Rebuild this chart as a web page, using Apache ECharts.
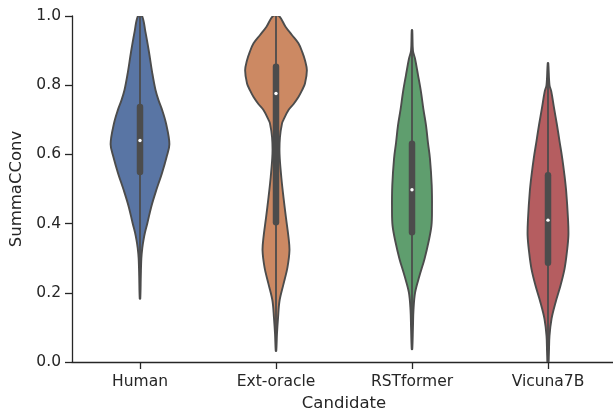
<!DOCTYPE html>
<html>
<head>
<meta charset="utf-8">
<script src="https://cdn.jsdelivr.net/npm/echarts@6/dist/echarts.min.js"></script>
<style>html,body{margin:0;padding:0;background:#fff;}#c{width:613px;height:410px;}</style>
</head>
<body>
<div id="c"></div>
<script>
// Categories
const categories = ['Human', 'Ext-oracle', 'RSTformer', 'Vicuna7B'];
// Violin outlines: [value, half-width as fraction of category spacing]
const humanProfile = [[1.0,0.015],[0.954,0.040],[0.896,0.066],[0.838,0.089],[0.786,0.114],[0.757,0.136],[0.728,0.163],[0.69,0.191],[0.63,0.216],[0.593,0.196],[0.545,0.161],[0.497,0.120],[0.449,0.083],[0.401,0.054],[0.375,0.037],[0.353,0.026],[0.33,0.017],[0.30,0.010],[0.25,0.006],[0.183,0.002]];
const extOracleProfile = [[1.0,0.022],[0.969,0.070],[0.945,0.117],[0.921,0.165],[0.895,0.194],[0.872,0.213],[0.843,0.227],[0.805,0.213],[0.785,0.191],[0.766,0.165],[0.745,0.128],[0.728,0.092],[0.70,0.055],[0.689,0.044],[0.65,0.029],[0.602,0.026],[0.534,0.039],[0.476,0.055],[0.418,0.073],[0.36,0.092],[0.322,0.099],[0.273,0.084],[0.225,0.055],[0.177,0.026],[0.128,0.015],[0.08,0.007],[0.032,0.002]];
const rstformerProfile = [[0.959,0.002],[0.90,0.007],[0.877,0.022],[0.83,0.044],[0.781,0.066],[0.73,0.084],[0.684,0.103],[0.635,0.117],[0.588,0.132],[0.51,0.145],[0.443,0.147],[0.394,0.143],[0.346,0.121],[0.298,0.092],[0.249,0.055],[0.201,0.023],[0.151,0.011],[0.10,0.007],[0.037,0.002]];
const vicunaProfile = [[0.864,0.002],[0.80,0.011],[0.782,0.024],[0.735,0.044],[0.685,0.066],[0.64,0.084],[0.588,0.105],[0.54,0.121],[0.492,0.134],[0.414,0.147],[0.366,0.150],[0.318,0.139],[0.27,0.122],[0.221,0.092],[0.173,0.056],[0.125,0.026],[0.076,0.011],[0.03,0.007],[-0.02,0.002]];
// Box stats
const q1 = [0.549, 0.404, 0.375, 0.287];
const medians = [0.640, 0.776, 0.498, 0.410];
const q3 = [0.737, 0.853, 0.631, 0.540];
const whiskerLow = [0.183, 0.032, 0.037, 0.0];
const whiskerHigh = [1.0, 1.0, 0.959, 0.864];

const profiles = [humanProfile, extOracleProfile, rstformerProfile, vicunaProfile];
const fills = ['#5975a4', '#cc8963', '#5f9e6e', '#b55d60'];
const edge = '#4c4c4c';
const ink = '#262626';
const font = 'DejaVu Sans';

function renderItem(params, api) {
  const i = params.dataIndex;
  const prof = profiles[i];
  const bw = api.size([1, 0])[0];
  const right = [], left = [];
  prof.forEach(function (p) {
    const c = api.coord([i, p[0]]);
    right.push([c[0] + p[1] * bw, c[1]]);
    left.push([c[0] - p[1] * bw, c[1]]);
  });
  const pts = right.concat(left.reverse());
  const wl = api.coord([i, whiskerLow[i]]);
  const wh = api.coord([i, whiskerHigh[i]]);
  const b1 = api.coord([i, q1[i]]);
  const b3 = api.coord([i, q3[i]]);
  const md = api.coord([i, medians[i]]);
  return {
    type: 'group',
    children: [
      { type: 'polygon', shape: { points: pts, smooth: 0.35 },
        style: { fill: fills[i], stroke: edge, lineWidth: 1.9, lineJoin: 'round' } },
      { type: 'line', shape: { x1: wl[0], y1: wl[1], x2: wh[0], y2: wh[1] },
        style: { stroke: edge, lineWidth: 1.8 } },
      { type: 'line', shape: { x1: b1[0], y1: b1[1], x2: b3[0], y2: b3[1] },
        style: { stroke: edge, lineWidth: 6.5, lineCap: 'round' } },
      { type: 'circle', shape: { cx: md[0], cy: md[1], r: 1.7 },
        style: { fill: '#ffffff' } }
    ]
  };
}

const chart = echarts.init(document.getElementById('c'), null, { renderer: 'canvas' });
chart.setOption({
  animation: false,
  backgroundColor: '#ffffff',
  textStyle: { fontFamily: font },
  grid: { left: 72, right: -3, top: 16, bottom: 48, containLabel: false, outerBoundsMode: 'none' },
  xAxis: {
    type: 'category',
    data: categories,
    boundaryGap: true,
    name: 'Candidate',
    nameLocation: 'middle',
    nameGap: 32,
    nameTextStyle: { fontSize: 16.5, color: ink, fontFamily: font },
    axisLine: { show: true, lineStyle: { color: ink, width: 1.3 } },
    axisTick: { show: true, alignWithLabel: true, length: 7, lineStyle: { color: ink, width: 1.3 } },
    axisLabel: { fontSize: 15.5, color: ink, margin: 12, fontFamily: font },
    splitLine: { show: false }
  },
  yAxis: {
    type: 'value',
    min: 0,
    max: 1,
    interval: 0.2,
    name: 'SummaCConv',
    nameLocation: 'middle',
    nameGap: 44,
    nameRotate: 90,
    nameTextStyle: { fontSize: 16.5, color: ink, fontFamily: font },
    axisLine: { show: true, lineStyle: { color: ink, width: 1.3 } },
    axisTick: { show: true, length: 7, lineStyle: { color: ink, width: 1.3 } },
    axisLabel: { fontSize: 15.5, color: ink, margin: 11, fontFamily: font,
      formatter: function (v) { return v.toFixed(1); } },
    splitLine: { show: false }
  },
  series: [{
    type: 'custom',
    clip: true,
    renderItem: renderItem,
    encode: { x: 0, y: 1 },
    data: categories.map(function (c, i) { return [i, medians[i]]; })
  }]
});
</script>
</body>
</html>
